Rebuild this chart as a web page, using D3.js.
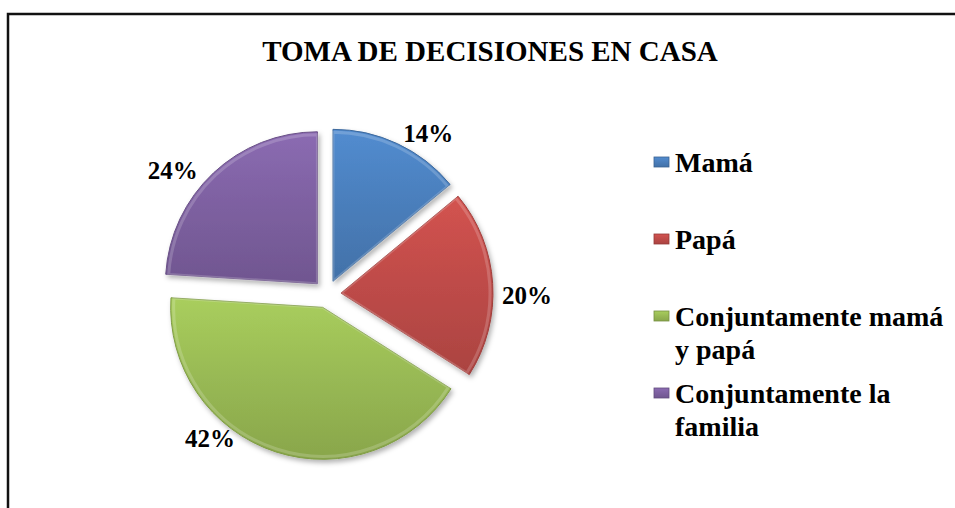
<!DOCTYPE html>
<html>
<head>
<meta charset="utf-8">
<script src="https://cdn.jsdelivr.net/npm/d3@7"></script>
<style>
  body { margin: 0; background: #fff; }
  svg { display: block; }
</style>
</head>
<body>
<svg id="chart"></svg>
<script>
// datos del grafico
var categories = ["Mamá", "Papá", "Conjuntamente mamá y papá", "Conjuntamente la familia"];
var values = [14, 20, 42, 24];
var legendLines = [["Mamá"], ["Papá"], ["Conjuntamente mamá", "y papá"], ["Conjuntamente la", "familia"]];
var colors = ["#4A7EBB", "#BE4B48", "#98B954", "#7D60A0"];
var title = "TOMA DE DECISIONES EN CASA";

var width = 955, height = 508;
var cx = 327, cy = 294, radius = 152, explode = 14;
var serif = "'Liberation Serif', Tinos, 'Times New Roman', 'DejaVu Serif', serif";

// ajuste de etiquetas (grados respecto a la bisectriz) y distancia
var labelNudge = [7, 4, 21, -8];
var labelDist = [190, 200, 186, 198];

var svg = d3.select("#chart").attr("width", width).attr("height", height);
var defs = svg.append("defs");

// gradientes para efecto de bisel
colors.forEach(function (c, i) {
  var base = d3.color(c);
  var g = defs.append("linearGradient")
    .attr("id", "grad" + i)
    .attr("x1", 0).attr("y1", 0).attr("x2", 0).attr("y2", 1);
  g.append("stop").attr("offset", "0%").attr("stop-color", base.brighter(0.3));
  g.append("stop").attr("offset", "50%").attr("stop-color", base);
  g.append("stop").attr("offset", "100%").attr("stop-color", base.darker(0.3));
});

var shadow = defs.append("filter").attr("id", "shadow")
  .attr("x", "-20%").attr("y", "-20%").attr("width", "140%").attr("height", "140%");
shadow.append("feDropShadow")
  .attr("dx", 2).attr("dy", 3).attr("stdDeviation", 2.5)
  .attr("flood-color", "#000").attr("flood-opacity", 0.3);

// borde
svg.append("rect")
  .attr("x", 8).attr("y", 14)
  .attr("width", 1000).attr("height", 600)
  .attr("fill", "none")
  .attr("stroke", "#111")
  .attr("stroke-width", 2.5);

// titulo
svg.append("text")
  .attr("x", 490).attr("y", 61)
  .attr("text-anchor", "middle")
  .attr("font-family", serif)
  .attr("font-weight", "bold")
  .attr("font-size", 29)
  .text(title);

// pie
var pie = d3.pie().value(function (d) { return d; }).sort(null);
var arc = d3.arc().innerRadius(0).outerRadius(radius);
var arcs = pie(values);

var g = svg.append("g").attr("transform", "translate(" + cx + "," + cy + ")");

var slice = g.selectAll(".arc")
  .data(arcs)
  .enter().append("g")
  .attr("class", "arc")
  .attr("transform", function (d) {
    var a = (d.startAngle + d.endAngle) / 2;
    return "translate(" + (Math.sin(a) * explode) + "," + (-Math.cos(a) * explode) + ")";
  });

slice.append("path")
  .attr("d", arc)
  .attr("fill", function (d, i) { return "url(#grad" + i + ")"; })
  .attr("stroke", function (d, i) { return d3.color(colors[i]).darker(0.5); })
  .attr("stroke-width", 1)
  .attr("filter", "url(#shadow)");

// brillo interior (bisel)
slice.append("path")
  .attr("d", d3.arc().innerRadius(0).outerRadius(radius - 3))
  .attr("fill", "none")
  .attr("stroke", "rgba(255,255,255,0.18)")
  .attr("stroke-width", 3);

// etiquetas de porcentaje
g.selectAll(".pct")
  .data(arcs)
  .enter().append("text")
  .attr("class", "pct")
  .attr("x", function (d, i) {
    var a = (d.startAngle + d.endAngle) / 2 + labelNudge[i] * Math.PI / 180;
    return Math.sin(a) * labelDist[i];
  })
  .attr("y", function (d, i) {
    var a = (d.startAngle + d.endAngle) / 2 + labelNudge[i] * Math.PI / 180;
    return -Math.cos(a) * labelDist[i];
  })
  .attr("dy", "0.35em")
  .attr("text-anchor", "middle")
  .attr("font-family", serif)
  .attr("font-weight", "bold")
  .attr("font-size", 25)
  .text(function (d) { return d.data + "%"; });

// leyenda
var legendStep = 77, lineH = 33;
var legend = svg.selectAll(".legend")
  .data(categories)
  .enter().append("g")
  .attr("class", "legend")
  .attr("transform", function (d, i) { return "translate(654," + (172 + i * legendStep) + ")"; });

legend.append("rect")
  .attr("x", 0).attr("y", -15)
  .attr("width", 15).attr("height", 10)
  .attr("fill", function (d, i) { return "url(#grad" + i + ")"; })
  .attr("stroke", function (d, i) { return d3.color(colors[i]).darker(0.7); })
  .attr("stroke-width", 0.8);

legend.append("text")
  .attr("x", 21)
  .attr("font-family", serif)
  .attr("font-weight", "bold")
  .attr("font-size", 28)
  .each(function (d, i) {
    var t = d3.select(this);
    legendLines[i].forEach(function (line, j) {
      t.append("tspan").attr("x", 21).attr("y", j * lineH).text(line);
    });
  });
</script>
</body>
</html>
